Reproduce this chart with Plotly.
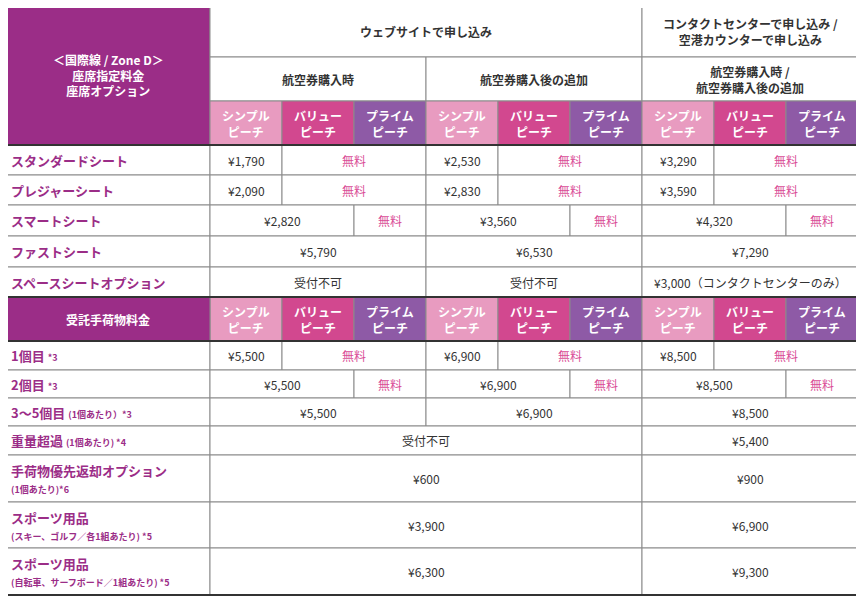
from plotly.graph_objects import Figure

FONT = "Noto Sans CJK JP"
PURPLE = "#9B2D87"
PINK = "#D94A96"
FARE_COLORS = ["#E89BC0", "#D2488F", "#8E5AA6"]

# ---- data ----
fare_names = ["シンプル<br>ピーチ", "バリュー<br>ピーチ", "プライム<br>ピーチ"]
channel_titles = ["ウェブサイトで申し込み", "コンタクトセンターで申し込み /<br>空港カウンターで申し込み"]
timing_titles = ["航空券購入時", "航空券購入後の追加", "航空券購入時 /<br>航空券購入後の追加"]
seat_title = "＜国際線 / Zone D＞<br>座席指定料金<br>座席オプション"
bag_title = "受託手荷物料金"

seat_labels = ["スタンダードシート", "プレジャーシート", "スマートシート", "ファストシート", "スペースシートオプション"]
seat_patterns = ["A", "A", "B", "C", "C"]
seat_prices = [
    ["¥1,790", "¥2,530", "¥3,290"],
    ["¥2,090", "¥2,830", "¥3,590"],
    ["¥2,820", "¥3,560", "¥4,320"],
    ["¥5,790", "¥6,530", "¥7,290"],
    ["受付不可", "受付不可", "¥3,000（コンタクトセンターのみ）"],
]

bag_labels = [("1個目", "*3"), ("2個目", "*3"), ("3～5個目", "(1個あたり）*3")]
bag_patterns = ["A", "B", "C"]
bag_prices3 = [
    ["¥5,500", "¥6,900", "¥8,500"],
    ["¥5,500", "¥6,900", "¥8,500"],
    ["¥5,500", "¥6,900", "¥8,500"],
]
bag_labels2 = [
    ("重量超過", "(1個あたり) *4", False),
    ("手荷物優先返却オプション", "(1個あたり)*6", True),
    ("スポーツ用品", "(スキー、ゴルフ／各1組あたり) *5", True),
    ("スポーツ用品", "(自転車、サーフボード／1組あたり) *5", True),
]
bag_prices2 = [
    ["受付不可", "¥5,400"],
    ["¥600", "¥900"],
    ["¥3,900", "¥6,900"],
    ["¥6,300", "¥9,300"],
]
free_text = "無料"

# ---- grid ----
col_edges = [6, 210, 282, 354, 426, 498, 570, 642, 714, 786, 858]
row_edges = [5, 57, 101, 145, 175, 205, 236, 267, 297, 341, 370, 398, 426, 455, 502, 548, 595]

fig = Figure()
shapes, annots = [], []


def cell(r, c0, c1, text, fill="white", color="#333", size=12, bold=False, align="center", r1=None):
    r1 = r if r1 is None else r1
    x0, x1 = col_edges[c0], col_edges[c1 + 1]
    y0, y1 = row_edges[r], row_edges[r1 + 1]
    shapes.append(dict(type="rect", x0=x0, x1=x1, y0=y0, y1=y1, fillcolor=fill,
                       line=dict(color="#8a8a8a", width=1), layer="below"))
    if bold:
        text = "<b>" + text + "</b>"
    xa = (x0 + x1) / 2 if align == "center" else x0 + 3
    annots.append(dict(x=xa, y=(y0 + y1) / 2, text=text, showarrow=False,
                       xanchor=align, yanchor="middle", align=align,
                       font=dict(family=FONT, size=size, color=color)))


def price_group(r, g, pattern, price):
    base = 1 + 3 * g
    if pattern == "A":
        cell(r, base, base, price)
        cell(r, base + 1, base + 2, free_text, color=PINK)
    elif pattern == "B":
        cell(r, base, base + 1, price)
        cell(r, base + 2, base + 2, free_text, color=PINK)
    else:
        cell(r, base, base + 2, price)


# header
cell(0, 0, 0, seat_title, fill=PURPLE, color="white", bold=True, r1=2)
cell(0, 1, 6, channel_titles[0], bold=True)
cell(0, 7, 9, channel_titles[1], bold=True)
for g in range(3):
    cell(1, 1 + 3 * g, 3 + 3 * g, timing_titles[g], bold=True)
for r in (2, 8):
    for g in range(3):
        for k in range(3):
            c = 1 + 3 * g + k
            cell(r, c, c, fare_names[k], fill=FARE_COLORS[k], color="white", bold=True)

# seats
for i, lab in enumerate(seat_labels):
    r = 3 + i
    cell(r, 0, 0, lab, color=PURPLE, bold=True, align="left", size=13)
    for g in range(3):
        price_group(r, g, seat_patterns[i], seat_prices[i][g])

# baggage
cell(8, 0, 0, bag_title, fill=PURPLE, color="white", bold=True)
for i in range(3):
    r = 9 + i
    main, sub = bag_labels[i]
    cell(r, 0, 0, f"{main} <span style='font-size:9px'>{sub}</span>", color=PURPLE, bold=True, align="left", size=13)
    for g in range(3):
        price_group(r, g, bag_patterns[i], bag_prices3[i][g])
for i, (main, sub, two_line) in enumerate(bag_labels2):
    r = 12 + i
    sep = "<br>" if two_line else " "
    cell(r, 0, 0, f"{main}{sep}<span style='font-size:9px'>{sub}</span>", color=PURPLE, bold=True, align="left", size=13)
    cell(r, 1, 6, bag_prices2[i][0])
    cell(r, 7, 9, bag_prices2[i][1])

# heavy rules
for y in (row_edges[3], row_edges[8], row_edges[9]):
    shapes.append(dict(type="line", x0=col_edges[0], x1=col_edges[-1], y0=y, y1=y,
                       line=dict(color="#333", width=2)))
shapes.append(dict(type="rect", x0=col_edges[0], x1=col_edges[-1], y0=row_edges[0], y1=row_edges[-1],
                   line=dict(color="#333", width=2)))

fig.update_layout(
    width=864, height=600, margin=dict(l=0, r=0, t=0, b=0),
    paper_bgcolor="white", plot_bgcolor="white",
    xaxis=dict(range=[8, 872], visible=False, fixedrange=True),
    yaxis=dict(range=[608, 8], visible=False, fixedrange=True),
    shapes=shapes, annotations=annots, showlegend=False,
)
fig.write_html("out.html")
